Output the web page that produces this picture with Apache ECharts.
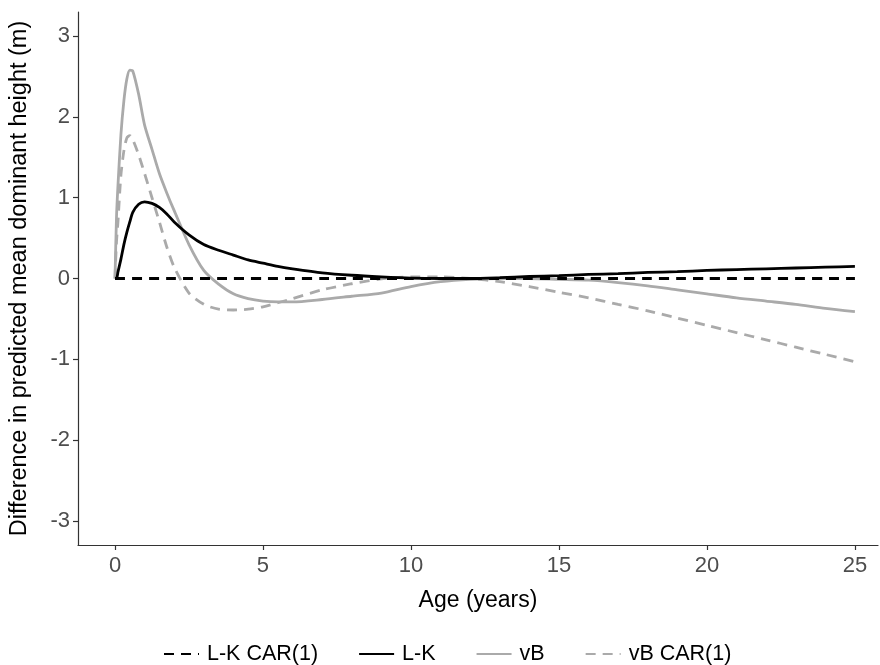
<!DOCTYPE html>
<html>
<head>
<meta charset="utf-8">
<script src="https://cdn.jsdelivr.net/npm/echarts@6/dist/echarts.min.js"></script>
<style>html,body{margin:0;padding:0;background:#fff;}#chart{width:880px;height:665px;}</style>
</head>
<body>
<div id="chart"></div>
<script>
const ages = [0,0.05,0.1,0.2,0.3,0.4,0.5,0.6,0.8,1,1.25,1.5,1.75,2,2.5,3,3.5,4,4.5,5,5.5,6,7,8,9,10,11,12,13,14,15,16,17,18,19,20,21,22,23,24,25];
const lkCar = [0,0,0,0,0,0,0,0,0,0,0,0,0,0,0,0,0,0,0,0,0,0,0,0,0,0,0,0,0,0,0,0,0,0,0,0,0,0,0,0,0];
const lk    = [0,0,0.08,0.24,0.42,0.57,0.7,0.82,0.92,0.95,0.93,0.88,0.8,0.7,0.54,0.42,0.35,0.29,0.23,0.19,0.15,0.12,0.07,0.04,0.02,0.005,0,0,0.01,0.025,0.035,0.05,0.06,0.075,0.085,0.1,0.11,0.12,0.13,0.14,0.15];
const vb    = [0,0.75,1.15,1.78,2.2,2.47,2.58,2.57,2.28,1.9,1.6,1.3,1.06,0.84,0.42,0.1,-0.07,-0.19,-0.25,-0.28,-0.29,-0.29,-0.26,-0.22,-0.18,-0.1,-0.04,-0.01,0,0,-0.01,-0.02,-0.05,-0.09,-0.14,-0.19,-0.24,-0.28,-0.32,-0.37,-0.41];
const vbCar = [0,0.45,0.7,1.28,1.58,1.74,1.77,1.72,1.53,1.3,1.0,0.7,0.39,0.14,-0.18,-0.32,-0.38,-0.39,-0.38,-0.35,-0.3,-0.25,-0.14,-0.065,-0.005,0.02,0.02,0,-0.04,-0.1,-0.17,-0.24,-0.32,-0.4,-0.49,-0.58,-0.67,-0.76,-0.85,-0.94,-1.03];
const xTicks = [0,5,10,15,20,25];
const yTicks = [-3,-2,-1,0,1,2,3];
const seriesNames = ['L-K CAR(1)','L-K','vB','vB CAR(1)'];

const pairs = v => ages.map((a,i)=>[a,v[i]]);
const FONT = "'Liberation Sans', Arial, sans-serif";
const DASH = [10,7];
const chart = echarts.init(document.getElementById('chart'), null, {renderer:'canvas'});
const mk = (name, data, color, type, z) => ({
  name, type:'line', data: pairs(data), showSymbol:false, symbol:'none', smooth:0.25, z,
  lineStyle:{color, width:2.8, type, cap:'butt'}, itemStyle:{color}
});
chart.setOption({
  animation:false,
  textStyle:{fontFamily:FONT},
  grid:{left:78, right:2, top:12, bottom:120, containLabel:false, outerBoundsMode:'none'},
  xAxis:{
    type:'value', min:-1.25, max:25.78,
    name:'Age (years)', nameLocation:'middle', nameGap:44,
    nameTextStyle:{fontSize:23, color:'#000', fontFamily:FONT},
    axisLine:{show:true, onZero:false, lineStyle:{color:'#333', width:1.2}},
    axisTick:{show:true, length:5, customValues:xTicks, lineStyle:{color:'#333', width:1.2}},
    axisLabel:{customValues:xTicks, fontSize:22, color:'#4d4d4d', margin:10, fontFamily:FONT},
    splitLine:{show:false}
  },
  yAxis:{
    type:'value', min:-3.3, max:3.3,
    name:'Difference in predicted mean dominant height (m)', nameLocation:'middle', nameGap:46, nameRotate:90,
    nameTextStyle:{fontSize:23.5, color:'#000', fontFamily:FONT},
    axisLine:{show:true, onZero:false, lineStyle:{color:'#333', width:1.2}},
    axisTick:{show:true, length:5, customValues:yTicks, lineStyle:{color:'#333', width:1.2}},
    axisLabel:{customValues:yTicks, fontSize:22, color:'#4d4d4d', margin:8, fontFamily:FONT},
    splitLine:{show:false}
  },
  legend:{
    top:638, left:158, itemWidth:35, itemHeight:14, itemGap:40,
    itemStyle:{opacity:0},
    textStyle:{fontSize:21.5, color:'#000', fontFamily:FONT, padding:[0,0,0,3]},
    data:seriesNames
  },
  series:[
    mk(seriesNames[0], lkCar, '#000000', DASH, 5),
    mk(seriesNames[1], lk, '#000000', 'solid', 4),
    mk(seriesNames[2], vb, '#aaaaaa', 'solid', 3),
    mk(seriesNames[3], vbCar, '#aaaaaa', DASH, 2)
  ]
});
</script>
</body>
</html>
